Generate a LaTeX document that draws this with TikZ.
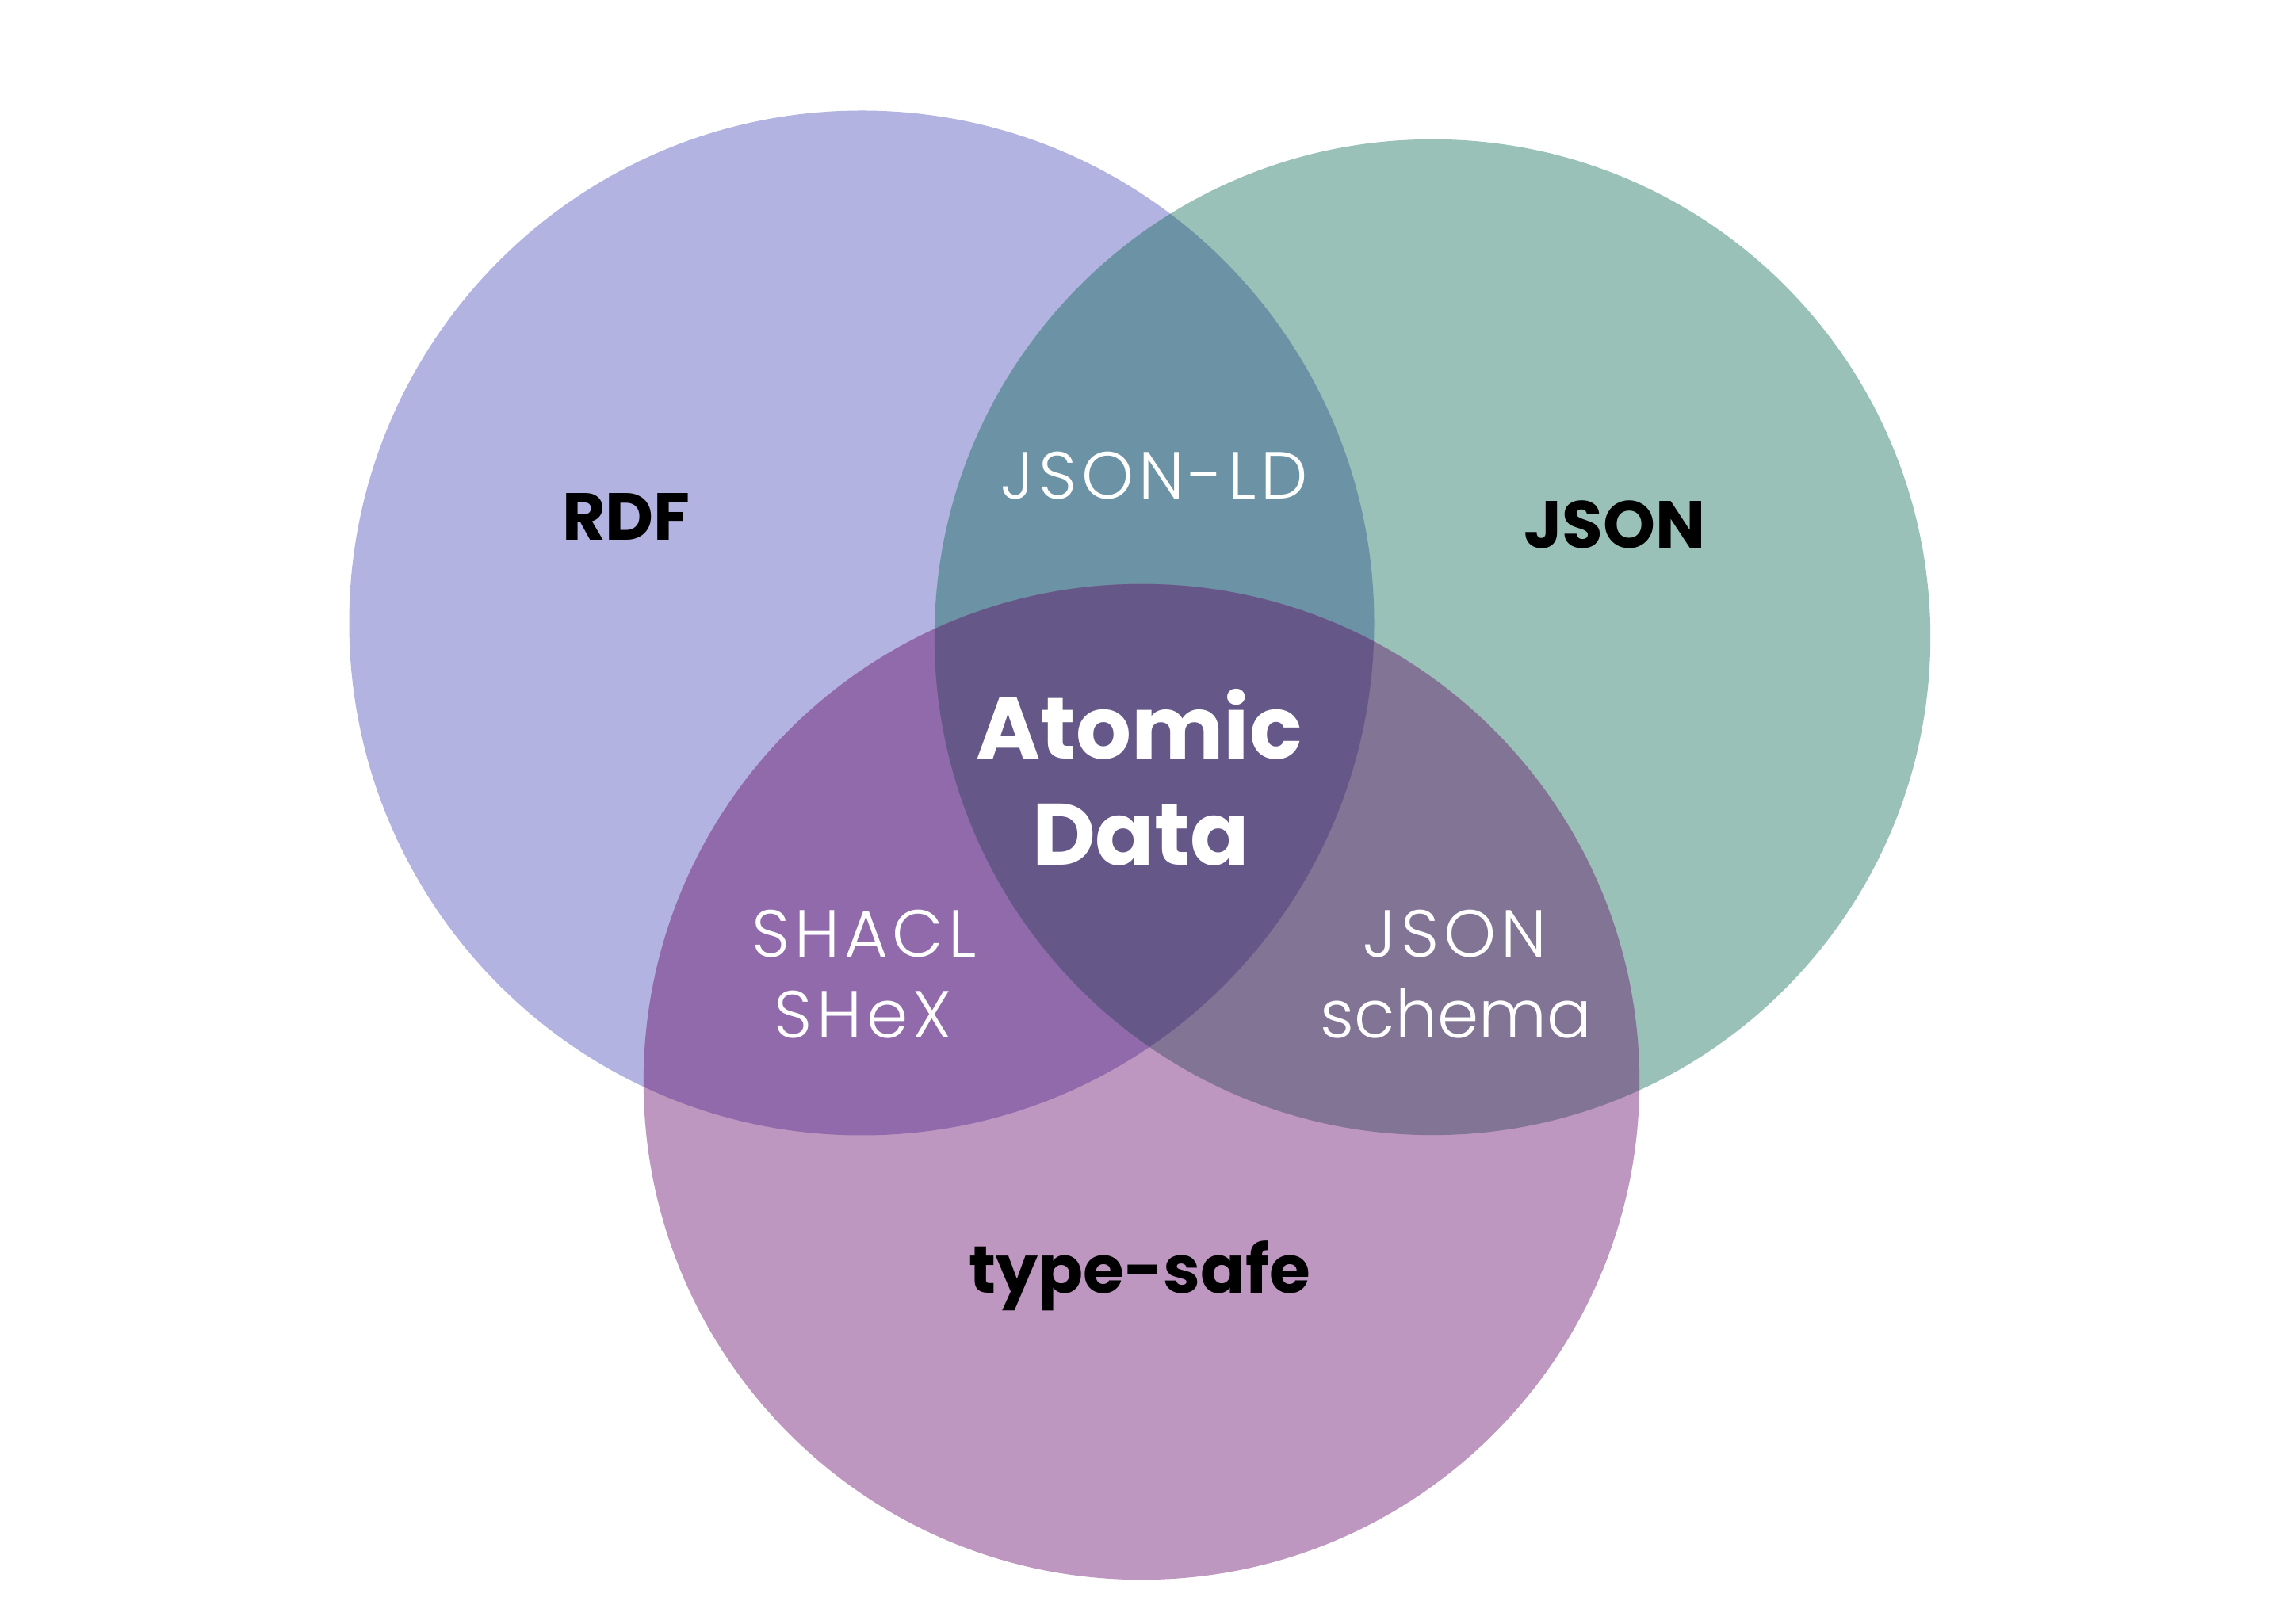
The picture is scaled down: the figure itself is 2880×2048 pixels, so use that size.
\documentclass[tikz,border=0pt]{standalone}
\usepackage{fontspec}
\setmainfont{Poppins}[BoldFont={* Bold}]
\newfontfamily\lightfont{Poppins Light}
\newfontfamily\lightcapsfont{Poppins Light}[LetterSpace=7]
\definecolor{rdfc}{HTML}{B2B3E1}
\definecolor{jsonc}{HTML}{99C1B8}
\definecolor{typec}{HTML}{BE97C1}
\definecolor{rjc}{HTML}{6B93A5}
\definecolor{rtc}{HTML}{916AAC}
\definecolor{jtc}{HTML}{827495}
\definecolor{allc}{HTML}{655889}
\tikzset{
  boldlab/.style={anchor=base, inner sep=0pt, font=\fontsize{84}{90}\selectfont\bfseries, text=black},
  lightlab/.style={anchor=base, inner sep=0pt, font=\fontsize{84}{90}\selectfont\lightfont, text=white},
  lightcaps/.style={anchor=base, inner sep=0pt, font=\fontsize{84}{90}\selectfont\lightcapsfont, text=white},
  biglab/.style={anchor=base, inner sep=0pt, font=\fontsize{110}{120}\selectfont\bfseries, text=white}
}
\begin{document}
\begin{tikzpicture}[x=1pt,y=1pt]
\useasboundingbox (0,0) rectangle (2880,2048);
\fill[white] (0,0) rectangle (2880,2048);
\def\rdfcirc{(1087,1262) circle[radius=646.5]}
\def\jsoncirc{(1807,1244) circle[radius=628.2]}
\def\typecirc{(1440,683) circle[radius=628.2]}
\fill[rdfc] \rdfcirc;
\fill[jsonc] \jsoncirc;
\fill[typec] \typecirc;
\begin{scope}
  \clip \rdfcirc;
  \fill[rjc] \jsoncirc;
  \fill[rtc] \typecirc;
\end{scope}
\begin{scope}
  \clip \jsoncirc;
  \fill[jtc] \typecirc;
\end{scope}
\begin{scope}
  \clip \rdfcirc;
  \clip \jsoncirc;
  \fill[allc] \typecirc;
\end{scope}
\node[boldlab] (rdf) at (790,1366) {RDF};
\node[boldlab] (json) at (2037,1356) {JSON};
\node[boldlab] (typesafe) at (1438,416) {type-safe};
\node[lightcaps] (jsonld) at (1456,1418) {JSON-LD};
\node[biglab] (atomic) at (1437,1090) {Atomic};
\node[biglab] (data) at (1439,956) {Data};
\node[lightcaps] (shacl) at (1090,840) {SHACL};
\node[lightcaps] (shex) at (1089,738) {SHeX};
\node[lightcaps] (jsonb) at (1835,840) {JSON};
\node[lightlab] (schema) at (1837,738) {schema};
\end{tikzpicture}
\end{document}
